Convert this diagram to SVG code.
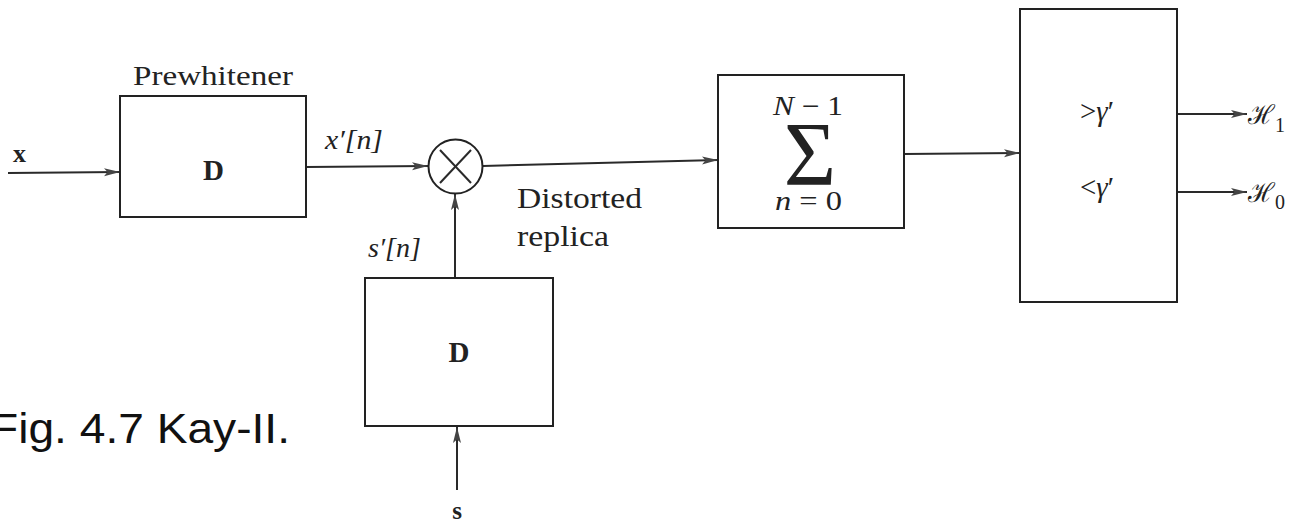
<svg xmlns="http://www.w3.org/2000/svg" width="1293" height="523" viewBox="0 0 1293 523">
<style>
.box{fill:#fff;stroke:#222;stroke-width:2}
.ln{fill:none;stroke:#2a2a2a;stroke-width:2}
.t{font-family:"Liberation Serif","DejaVu Serif",serif;fill:#222}
.it{font-style:italic}
.b{font-weight:bold}
.h{font-family:"DejaVu Serif",serif;fill:#222}
</style>
<defs>
<marker id="ah" markerUnits="userSpaceOnUse" markerWidth="18" markerHeight="10" refX="16" refY="5" orient="auto">
<path d="M0,1 L16,5 L0,9 L3.5,5 Z" fill="#444"/>
</marker>
</defs>
<rect width="1293" height="523" fill="#fff"/>

<g id="edges">
<line class="ln" x1="8" y1="173" x2="120" y2="172" marker-end="url(#ah)"/>
<line class="ln" x1="306" y1="167" x2="428" y2="166" marker-end="url(#ah)"/>
<line class="ln" x1="455" y1="278" x2="455" y2="194" marker-end="url(#ah)"/>
<line class="ln" x1="457" y1="490" x2="457" y2="427" marker-end="url(#ah)"/>
<line class="ln" x1="483" y1="166" x2="718" y2="160" marker-end="url(#ah)"/>
<line class="ln" x1="904" y1="154" x2="1020" y2="153" marker-end="url(#ah)"/>
<line class="ln" x1="1177" y1="114" x2="1247" y2="114" marker-end="url(#ah)"/>
<line class="ln" x1="1177" y1="192" x2="1247" y2="192" marker-end="url(#ah)"/>
</g>

<g id="prewhitener">
<rect class="box" x="120" y="96" width="186" height="121"/>
<text class="t" x="133" y="85" font-size="27" textLength="160" lengthAdjust="spacingAndGlyphs">Prewhitener</text>
<text class="t b" x="213.5" y="180" font-size="29" text-anchor="middle">D</text>
</g>

<g id="multiplier">
<circle cx="455.5" cy="166.5" r="27" fill="#fff" stroke="#222" stroke-width="2"/>
<line class="ln" x1="440" y1="150" x2="471" y2="183"/>
<line class="ln" x1="471" y1="150" x2="440" y2="183"/>
</g>

<g id="distorter">
<rect class="box" x="365" y="278" width="188" height="148"/>
<text class="t b" x="459" y="362" font-size="29" text-anchor="middle">D</text>
</g>

<g id="summer">
<rect class="box" x="718" y="75" width="186" height="153"/>
<text class="t" x="773" y="115" font-size="27" textLength="70" lengthAdjust="spacingAndGlyphs"><tspan class="it">N</tspan> − 1</text>
<text class="t" x="810" y="185" font-size="90" text-anchor="middle">Σ</text>
<text class="t" x="775" y="210" font-size="27" textLength="67" lengthAdjust="spacingAndGlyphs"><tspan class="it">n</tspan> = 0</text>
</g>

<g id="decision">
<rect class="box" x="1020" y="9" width="157" height="293"/>
<text class="t" x="1080" y="121" font-size="29" textLength="34" lengthAdjust="spacingAndGlyphs">&gt;<tspan class="it">γ</tspan>′</text>
<text class="t" x="1080" y="197" font-size="29" textLength="34" lengthAdjust="spacingAndGlyphs">&lt;<tspan class="it">γ</tspan>′</text>
</g>

<g id="labels">
<text class="t b" x="13" y="162" font-size="26">x</text>
<text class="t it" x="325" y="149" font-size="27" textLength="58" lengthAdjust="spacingAndGlyphs">x′[n]</text>
<text class="t it" x="368" y="257" font-size="27" textLength="53" lengthAdjust="spacingAndGlyphs">s′[n]</text>
<text class="t" x="517" y="208" font-size="29" textLength="125" lengthAdjust="spacingAndGlyphs">Distorted</text>
<text class="t" x="517" y="246" font-size="29" textLength="92" lengthAdjust="spacingAndGlyphs">replica</text>
<text class="t b" x="457" y="519" font-size="25" text-anchor="middle">s</text>
<text class="h" x="1248" y="124" font-size="27" textLength="27" lengthAdjust="spacingAndGlyphs">ℋ</text>
<text class="t" x="1275" y="132" font-size="20">1</text>
<text class="h" x="1248" y="202" font-size="27" textLength="27" lengthAdjust="spacingAndGlyphs">ℋ</text>
<text class="t" x="1275" y="209" font-size="20">0</text>
<text x="-10" y="443" font-size="42" font-family="Liberation Sans, Arial, sans-serif" fill="#111" textLength="300" lengthAdjust="spacingAndGlyphs">Fig. 4.7 Kay-II.</text>
</g>
</svg>
